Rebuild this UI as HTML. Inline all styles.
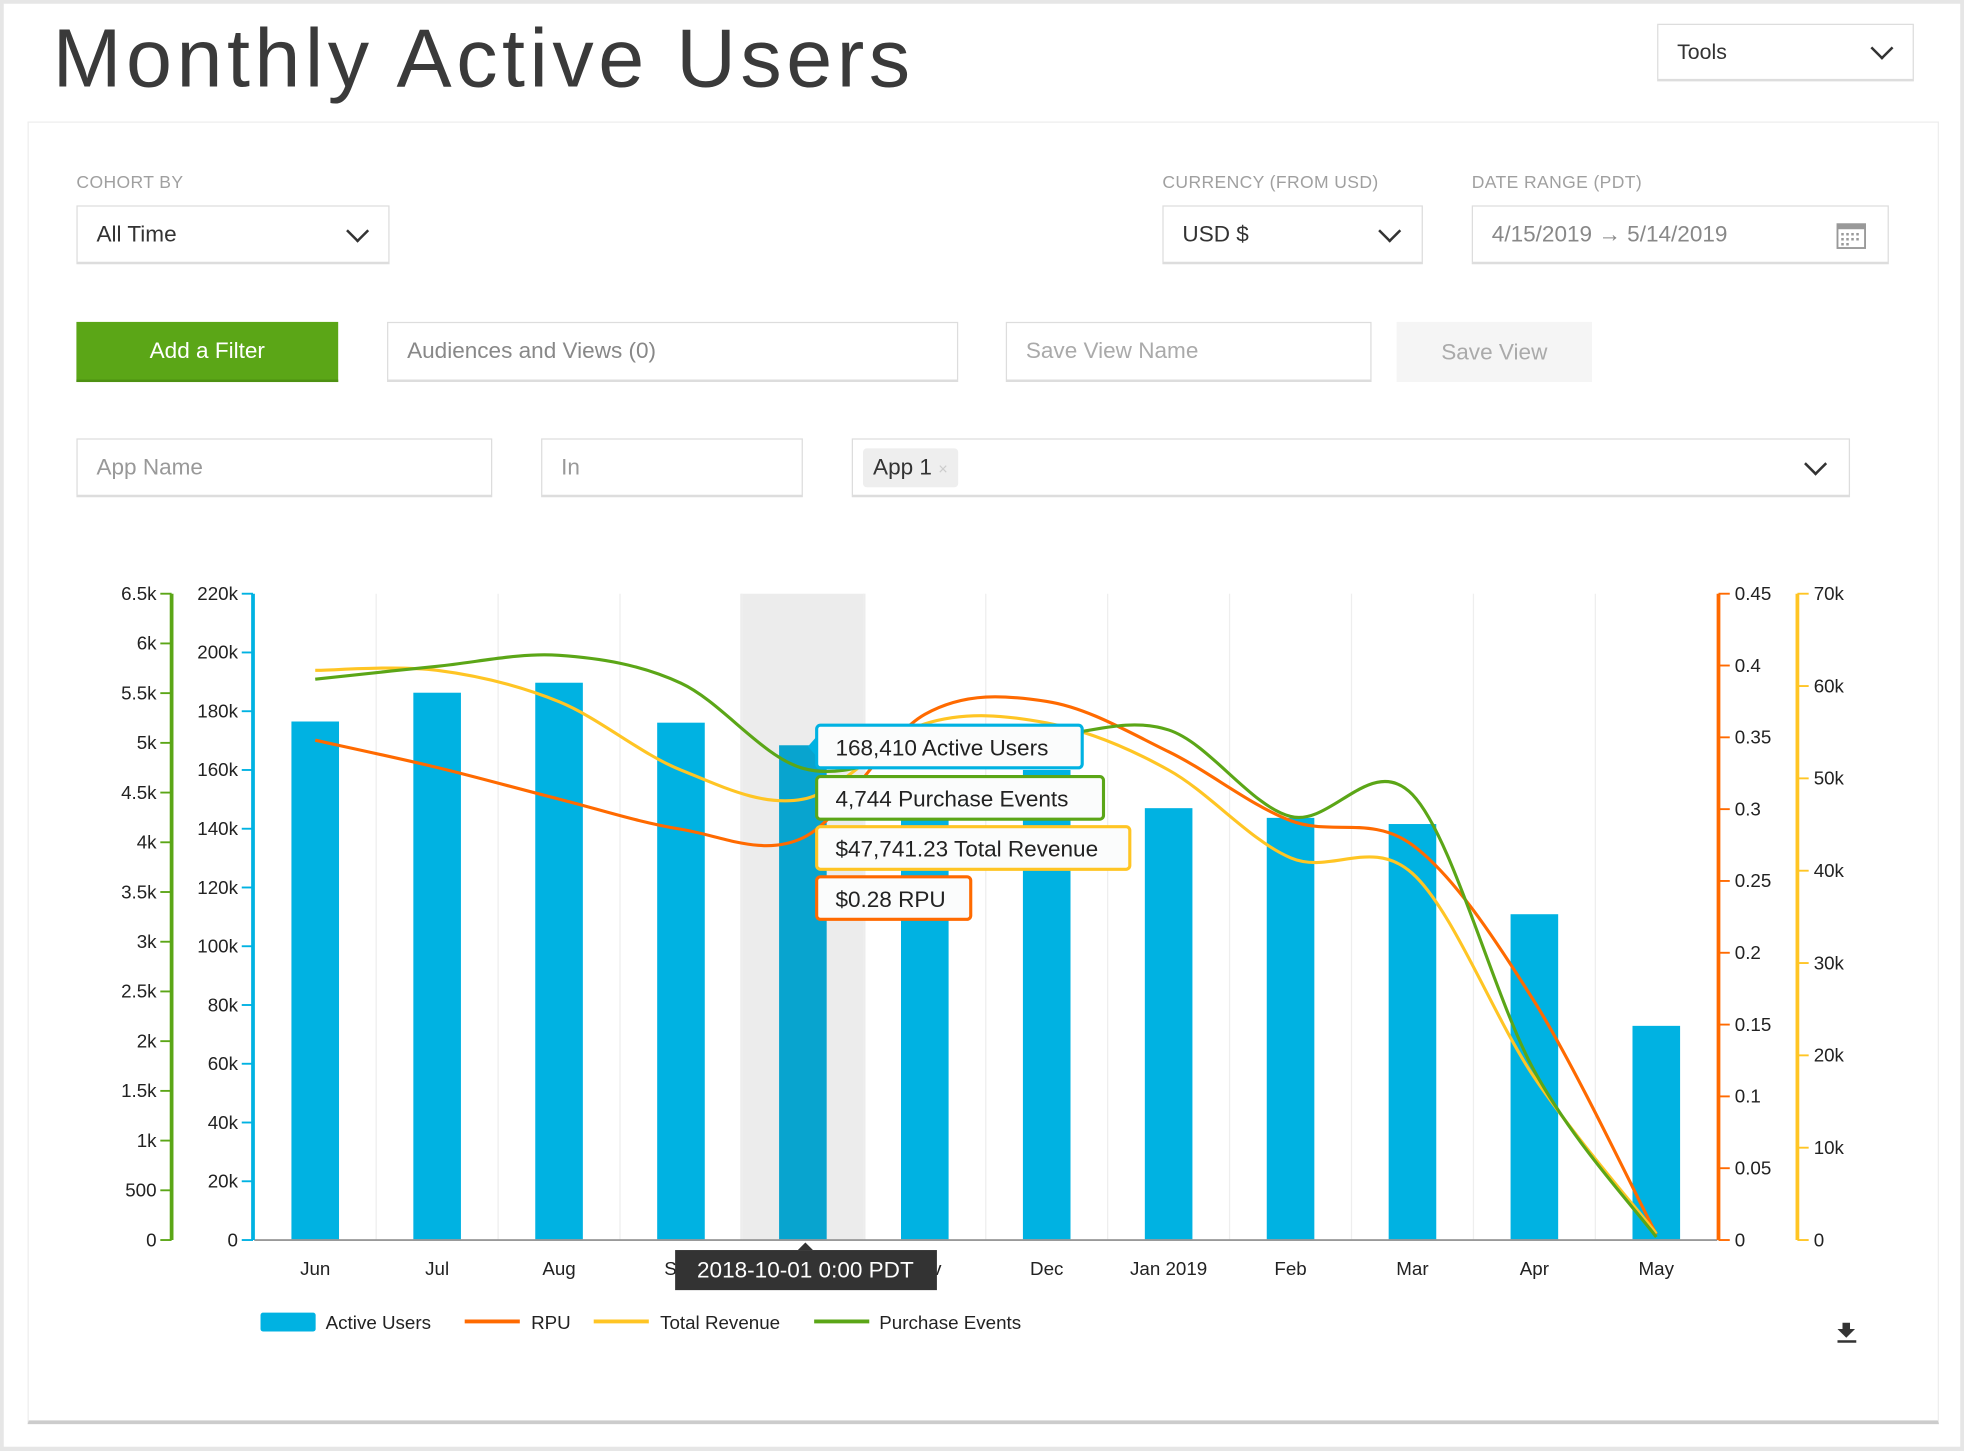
<!DOCTYPE html>
<html><head><meta charset="utf-8">
<style>
html,body{margin:0;padding:0;width:1964px;height:1451px;overflow:hidden;background:#e6e6e6;font-family:"Liberation Sans",sans-serif;}
#wrap{position:absolute;left:0;top:0;width:1568px;height:1158px;transform:scale(1.25255);transform-origin:0 0;}
#page{position:absolute;left:3px;top:3px;width:1562px;height:1152px;background:#fff;}
.abs{position:absolute;box-sizing:border-box;}
.box{position:absolute;box-sizing:border-box;border:1px solid #ddd;border-bottom:2px solid #ddd;background:#fff;font-size:18px;color:#999;padding-left:15px;display:flex;align-items:center;}
.lbl{position:absolute;font-size:14px;color:#a0a0a0;letter-spacing:0.3px;}
.chev{position:absolute;width:11px;height:11px;border-right:2px solid #333;border-bottom:2px solid #333;transform:rotate(45deg);}
</style></head><body>
<div id="wrap">
<div id="page">
<div class="abs" style="left:39px;top:5px;font-size:66px;color:#3a3a3a;font-weight:300;letter-spacing:3.6px;">Monthly Active Users</div>
<div class="box" style="left:1320px;top:16px;width:205px;height:46px;color:#333;font-size:17px;">Tools<span class="chev" style="left:172px;top:12px;"></span></div>
<div class="abs" style="left:19px;top:94px;width:1526px;height:1040px;border:1px solid #eee;border-bottom:3px solid #ccc;"></div>
<div class="lbl" style="left:58px;top:134px;">COHORT BY</div>
<div class="box" style="left:58px;top:161px;width:250px;height:47px;color:#333;">All Time<span class="chev" style="left:217px;top:13px;"></span></div>
<div class="lbl" style="left:925px;top:134px;">CURRENCY (FROM USD)</div>
<div class="box" style="left:925px;top:161px;width:208px;height:47px;color:#333;">USD $<span class="chev" style="left:174px;top:13px;"></span></div>
<div class="lbl" style="left:1172px;top:134px;">DATE RANGE (PDT)</div>
<div class="box" style="left:1172px;top:161px;width:333px;height:47px;color:#888;">4/15/2019 → 5/14/2019
<svg style="position:absolute;left:290px;top:10px" width="24" height="24" viewBox="0 0 24 24"><rect x="1" y="4" width="22" height="19" fill="none" stroke="#999" stroke-width="1.5"/><rect x="1" y="4" width="22" height="4" fill="#999"/><g fill="#999"><rect x="4" y="11" width="2" height="2"/><rect x="8" y="11" width="2" height="2"/><rect x="12" y="11" width="2" height="2"/><rect x="16" y="11" width="2" height="2"/><rect x="4" y="15" width="2" height="2"/><rect x="8" y="15" width="2" height="2"/><rect x="12" y="15" width="2" height="2"/><rect x="16" y="15" width="2" height="2"/><rect x="4" y="19" width="2" height="2"/><rect x="8" y="19" width="2" height="2"/></g></svg></div>
<div class="abs" style="left:58px;top:254px;width:209px;height:48px;background:#5ba617;color:#fff;font-size:18px;display:flex;align-items:center;justify-content:center;border-bottom:2px solid #4e9112;">Add a Filter</div>
<div class="box" style="left:306px;top:254px;width:456px;height:48px;color:#888;">Audiences and Views (0)</div>
<div class="box" style="left:800px;top:254px;width:292px;height:48px;color:#aaa;">Save View Name</div>
<div class="abs" style="left:1112px;top:254px;width:156px;height:48px;background:#f5f5f5;color:#aaa;font-size:18px;display:flex;align-items:center;justify-content:center;">Save View</div>
<div class="box" style="left:58px;top:347px;width:332px;height:47px;color:#999;">App Name</div>
<div class="box" style="left:429px;top:347px;width:209px;height:47px;color:#999;">In</div>
<div class="box" style="left:677px;top:347px;width:797px;height:47px;padding-left:8px;">
<span style="background:#eee;color:#333;padding:5px 8px;border-radius:3px;font-size:18px;">App 1 <span style="color:#ccc;font-size:13px;">×</span></span>
<span class="chev" style="left:762px;top:13px;"></span></div>
</div>
<svg id="chart" class="abs" style="left:0;top:0" width="1568" height="1158"></svg>
</div>
<script>
const categories=["Jun","Jul","Aug","Sep","Oct","Nov","Dec","Jan 2019","Feb","Mar","Apr","May"];
const activeUsers=[176500,186300,189700,176100,168410,158000,160000,147000,143700,141600,110900,72900];
const rpu=[0.348,0.329,0.307,0.286,0.28,0.366,0.375,0.34,0.292,0.275,0.166,0.004];
const totalRevenue=[61700,61700,58300,50900,47741.23,55900,56000,50900,41400,39700,17600,700];
const purchaseEvents=[5640,5770,5880,5600,4744,4910,5060,5130,4260,4480,1700,30];
const usersTicks=["0","20k","40k","60k","80k","100k","120k","140k","160k","180k","200k","220k"];
const eventsTicks=["0","500","1k","1.5k","2k","2.5k","3k","3.5k","4k","4.5k","5k","5.5k","6k","6.5k"];
const rpuTicks=["0","0.05","0.1","0.15","0.2","0.25","0.3","0.35","0.4","0.45"];
const revTicks=["0","10k","20k","30k","40k","50k","60k","70k"];
const highlighted=4;

const svg=document.getElementById('chart');
const NS='http://www.w3.org/2000/svg';
const L=203,R=1371,T=474,B=990;
const band=(R-L)/categories.length;
const xc=i=>L+band*(i+0.5);
const yU=v=>B-v/220000*(B-T);
const yE=v=>B-v/6500*(B-T);
const yR=v=>B-v/0.45*(B-T);
const yV=v=>B-v/70000*(B-T);
function mk(tag,attrs,parent){const e=document.createElementNS(NS,tag);for(const k in attrs)e.setAttribute(k,attrs[k]);(parent||svg).appendChild(e);return e;}
function txt(s,x,y,anchor,size,fill,parent){const t=mk('text',{x:x,y:y,'text-anchor':anchor,'font-size':size,fill:fill,'font-family':'Liberation Sans, sans-serif'},parent);t.textContent=s;return t;}

const bandRect=mk('rect',{x:xc(highlighted)-50,y:T,width:100,height:B-T,fill:'#ececec'});


for(let i=1;i<categories.length;i++){const g=mk('line',{x1:L+band*i,x2:L+band*i,y1:T,y2:B,stroke:'#eee','stroke-width':1});

}
activeUsers.forEach((v,i)=>{const r=mk('rect',{x:xc(i)-19,y:yU(v),width:38,height:B-yU(v),fill:i===highlighted?'#08a4cf':'#00b2e2'});

});
mk('line',{x1:L,x2:R,y1:B,y2:B,stroke:'#999','stroke-width':1.5});
function axis(x,color,ticks,scaleFn,step,side,name){
  const g=mk('g',{});
  
  
  mk('line',{x1:x,x2:x,y1:T,y2:B,stroke:color,'stroke-width':3},g);
  ticks.forEach((t,i)=>{const y=scaleFn(i*step);
    if(side==='left'){mk('line',{x1:x-9,x2:x,y1:y,y2:y,stroke:color,'stroke-width':1.5},g);txt(t,x-12,y+5,'end',15,'#222',g);}
    else{mk('line',{x1:x,x2:x+9,y1:y,y2:y,stroke:color,'stroke-width':1.5},g);txt(t,x+13,y+5,'start',15,'#222',g);}
  });
}
axis(137,'#5ba617',eventsTicks,yE,500,'left','purchase-events-axis');
axis(202,'#00b2e2',usersTicks,yU,20000,'left','active-users-axis');
axis(1372,'#ff6a00',rpuTicks,yR,0.05,'right','rpu-axis');
axis(1435,'#ffc524',revTicks,yV,10000,'right','revenue-axis');
categories.forEach((c,i)=>{const t=txt(c,xc(i),1018,'middle',15,'#222');

});
function smooth(pts){let d='M'+pts[0][0]+','+pts[0][1];
  for(let i=0;i<pts.length-1;i++){const p0=pts[i-1]||pts[i],p1=pts[i],p2=pts[i+1],p3=pts[i+2]||p2;
    const c1=[p1[0]+(p2[0]-p0[0])/6,p1[1]+(p2[1]-p0[1])/6],c2=[p2[0]-(p3[0]-p1[0])/6,p2[1]-(p3[1]-p1[1])/6];
    d+=' C'+c1+' '+c2+' '+p2;}return d;}
function series(vals,fn,color,name){const p=mk('path',{d:smooth(vals.map((v,i)=>[xc(i),fn(v)])),fill:'none',stroke:color,'stroke-width':2.5});

}
series(rpu,yR,'#ff6a00','rpu-line');
series(totalRevenue,yV,'#ffc524','total-revenue-line');
series(purchaseEvents,yE,'#5ba617','purchase-events-line');
function tip(label,y,w,color,name){const g=mk('g',{});
  
  
  mk('rect',{x:652,y:y,width:w,height:34,rx:3,fill:'#fbfcfc',stroke:color,'stroke-width':2.5},g);
  txt(label,667,y+24,'start',18,'#222',g);}
tip(activeUsers[highlighted].toLocaleString('en-US')+' Active Users',579,212,'#00b2e2','tooltip-active-users');
tip(purchaseEvents[highlighted].toLocaleString('en-US')+' Purchase Events',620,229,'#5ba617','tooltip-purchase-events');
tip('$'+totalRevenue[highlighted].toLocaleString('en-US',{minimumFractionDigits:2})+' Total Revenue',660,250,'#ffc524','tooltip-total-revenue');
tip('$'+rpu[highlighted].toFixed(2)+' RPU',700,123,'#ff6a00','tooltip-rpu');
mk('path',{d:'M652,588 L645,596 L652,604 Z',fill:'#00b2e2'});
const dg=mk('g',{});


mk('rect',{x:539,y:998,width:209,height:32,fill:'#333'},dg);
mk('path',{d:'M637,998 L643,992 L649,998 Z',fill:'#333'},dg);
txt('2018-10-01 0:00 PDT',643,1020,'middle',18,'#fff',dg);
function leg(x,type,color,label,tx,name){const g=mk('g',{});
  
  
  if(type==='bar')mk('rect',{x:x,y:1048,width:44,height:15,rx:2,fill:color},g);
  else mk('line',{x1:x,x2:x+44,y1:1055,y2:1055,stroke:color,'stroke-width':3},g);
  txt(label,tx,1061,'start',15,'#222',g);}
leg(208,'bar','#00b2e2','Active Users',260,'legend-active-users');
leg(371,'line','#ff6a00','RPU',424,'legend-rpu');
leg(474,'line','#ffc524','Total Revenue',527,'legend-total-revenue');
leg(650,'line','#5ba617','Purchase Events',702,'legend-purchase-events');
const dl=mk('g',{});


mk('path',{d:'M1471,1056 h6 v5 h4 l-7,7 l-7,-7 h4 z',fill:'#333'},dl);
mk('rect',{x:1467,y:1070,width:15,height:2,fill:'#333'},dl);
</script>
</body></html>
